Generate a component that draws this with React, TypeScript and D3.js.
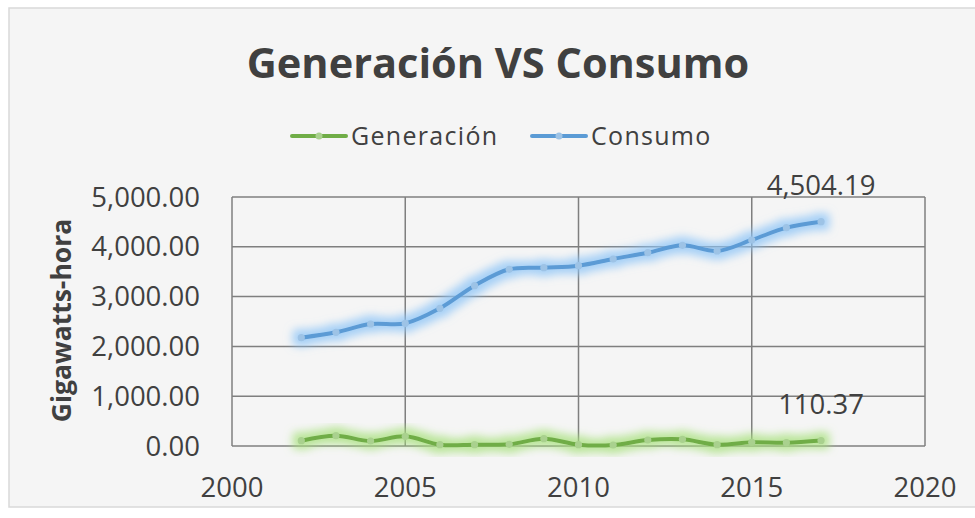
import React from "react";
import * as d3 from "d3";

const width = 975;
const height = 518;
const margin = { top: 197, right: 50, bottom: 72, left: 232 };

const years = [2002, 2003, 2004, 2005, 2006, 2007, 2008, 2009, 2010, 2011, 2012, 2013, 2014, 2015, 2016, 2017];
const consumo = [2175, 2283, 2450, 2463, 2765, 3219, 3548, 3581, 3621, 3755, 3882, 4030, 3916, 4137, 4384, 4504.19];
const generacion = [107, 207, 100, 195, 27, 27, 33, 147, 27, 20, 120, 134, 27, 74, 67, 110.37];
const xTicks = [2000, 2005, 2010, 2015, 2020];
const yTicks = [0, 1000, 2000, 3000, 4000, 5000];

const series = [
  { name: "Generación", values: generacion, line: "#70ad47", marker: "#a9d18e", glow: "#a6e07a", id: "glowG" },
  { name: "Consumo", values: consumo, line: "#5b9bd5", marker: "#9dc3e6", glow: "#8cc4f7", id: "glowB" }
];

const font = "'Open Sans', Calibri, sans-serif";
const textColor = "#404040";

export default function App() {
  const x = d3.scaleLinear().domain([2000, 2020]).range([margin.left, 925]);
  const y = d3.scaleLinear().domain([0, 5000]).range([height - margin.bottom, margin.top]);
  const fmt = d3.format(",.2f");

  const line = d3.line<number>()
    .x((d, i) => x(years[i]))
    .y(d => y(d))
    .curve(d3.curveCatmullRom.alpha(0.5));

  const [x0, x1] = x.range();
  const [yb, yt] = y.range();

  return (
    <div style={{ position: "absolute", left: 0, top: 0 }}>
      <svg width={width} height={height} style={{ display: "block" }}>
        <defs>
          {series.map(s => (
            <filter key={s.id} id={s.id} x="-10%" y="-50%" width="120%" height="200%">
              <feMorphology in="SourceAlpha" operator="dilate" radius="5" result="d" />
              <feGaussianBlur in="d" stdDeviation="4" result="b" />
              <feFlood floodColor={s.glow} floodOpacity="0.75" />
              <feComposite in2="b" operator="in" result="g" />
              <feMerge>
                <feMergeNode in="g" />
                <feMergeNode in="SourceGraphic" />
              </feMerge>
            </filter>
          ))}
        </defs>
        <rect x={0} y={0} width={width} height={height} fill="#ffffff" />
        <rect x={9} y={8} width={width} height={499} fill="#f5f5f5" stroke="#d9d9d9" strokeWidth={1.5} />

        <text x={498} y={78} textAnchor="middle" fontFamily={font} fontWeight="bold" fontSize={41.5} fill={textColor}>
          Generación VS Consumo
        </text>

        {/* legend */}
        {series.map((s, i) => {
          const lx = i === 0 ? 292 : 532;
          return (
            <g key={s.name}>
              <line x1={lx} x2={lx + 54} y1={136} y2={136} stroke={s.line} strokeWidth={4} strokeLinecap="round" />
              <circle cx={lx + 27} cy={136} r={3.5} fill={s.marker} />
              <text x={lx + 59} y={145} fontFamily={font} fontSize={25} letterSpacing={1.3} fill={textColor}>{s.name}</text>
            </g>
          );
        })}

        {/* grid */}
        {yTicks.map(t => (
          <line key={"y" + t} x1={x0} x2={x1} y1={y(t)} y2={y(t)} stroke="#7f7f7f" strokeWidth={1.5} />
        ))}
        {xTicks.map(t => (
          <line key={"x" + t} x1={x(t)} x2={x(t)} y1={yb} y2={yt} stroke="#7f7f7f" strokeWidth={1.5} />
        ))}

        {yTicks.map(t => (
          <text key={"yl" + t} x={200} y={y(t) + 9.5} textAnchor="end" fontFamily={font} fontSize={27.5} fill={textColor}>
            {fmt(t)}
          </text>
        ))}
        {xTicks.map(t => (
          <text key={"xl" + t} x={x(t)} y={497} textAnchor="middle" fontFamily={font} fontSize={27.5} fill={textColor}>
            {t}
          </text>
        ))}

        <text transform={`translate(71,${(yb + yt) / 2 - 1}) rotate(-90)`} textAnchor="middle" fontFamily={font}
          fontWeight="bold" fontSize={26.5} fill={textColor}>
          Gigawatts-hora
        </text>

        {series.map(s => (
          <g key={s.name} filter={`url(#${s.id})`}>
            <path d={line(s.values) || ""} fill="none" stroke={s.line} strokeWidth={4} strokeLinecap="round" />
            {s.values.map((v, i) => (
              <circle key={i} cx={x(years[i])} cy={y(v)} r={3.6} fill={s.marker} />
            ))}
          </g>
        ))}

        {series.map(s => {
          const last = s.values[s.values.length - 1];
          return (
            <text key={"dl" + s.name} x={x(years[years.length - 1])} y={y(last) - 27} textAnchor="middle"
              fontFamily={font} fontSize={27.5} fill={textColor}>
              {fmt(last)}
            </text>
          );
        })}
      </svg>
    </div>
  );
}
